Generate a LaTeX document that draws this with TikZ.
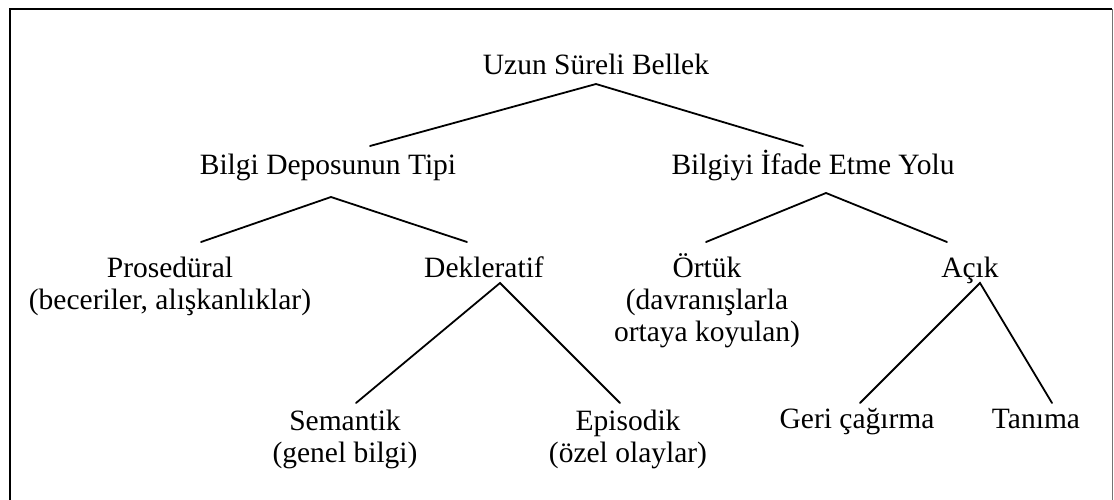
\documentclass[tikz,border=0pt]{standalone}
\usepackage{fontspec}
\setmainfont{Liberation Serif}
\begin{document}
\begin{tikzpicture}[x=1pt,y=-1pt,
  lbl/.style={font=\fontsize{29.5}{32}\selectfont, inner sep=0pt, align=center, anchor=base},
  edge/.style={line width=1.8pt, line cap=round}]
\useasboundingbox (0,0) rectangle (1114,500);
% outer frame
\draw[line width=2.5pt] (10,520) -- (10,9) -- (1112,9);
\draw[line width=1pt, black!55] (1112,9) -- (1112,520);

% labels (multi-line labels sit on the baseline of their last line)
\node[lbl] (root)   at (596,75)  {Uzun Süreli Bellek};
\node[lbl] (store)  at (328,175) {Bilgi Deposunun Tipi};
\node[lbl] (expr)   at (813,175) {Bilgiyi İfade Etme Yolu};
\node[lbl] (proc)   at (170,309) {Prosedüral\\(beceriler, alışkanlıklar)};
\node[lbl] (decl)   at (484,277) {Dekleratif};
\node[lbl] (impl)   at (707,341) {Örtük\\(davranışlarla\\ortaya koyulan)};
\node[lbl] (expl)   at (970,277) {Açık};
\node[lbl] (sem)    at (345,462) {Semantik\\(genel bilgi)};
\node[lbl] (epi)    at (628,462) {Episodik\\(özel olaylar)};
\node[lbl] (recall) at (857,428) {Geri çağırma};
\node[lbl] (recog)  at (1036,428) {Tanıma};

% branch points
\coordinate (root-d)  at (596,84);
\coordinate (store-u) at (370,146);
\coordinate (expr-u)  at (803,146);
\coordinate (store-d) at (331,197);
\coordinate (proc-u)  at (201,242);
\coordinate (decl-u)  at (467,242);
\coordinate (expr-d)  at (826,193);
\coordinate (impl-u)  at (706,242);
\coordinate (expl-u)  at (947,242);
\coordinate (decl-d)  at (500,283);
\coordinate (sem-u)   at (356,403);
\coordinate (epi-u)   at (620,403);
\coordinate (expl-d)  at (980,283);
\coordinate (recall-u) at (860,403);
\coordinate (recog-u) at (1052,403);

% connectors
\draw[edge] (store-u) -- (root-d) -- (expr-u);
\draw[edge] (proc-u) -- (store-d) -- (decl-u);
\draw[edge] (impl-u) -- (expr-d) -- (expl-u);
\draw[edge] (sem-u) -- (decl-d) -- (epi-u);
\draw[edge] (recall-u) -- (expl-d) -- (recog-u);
\end{tikzpicture}
\end{document}
